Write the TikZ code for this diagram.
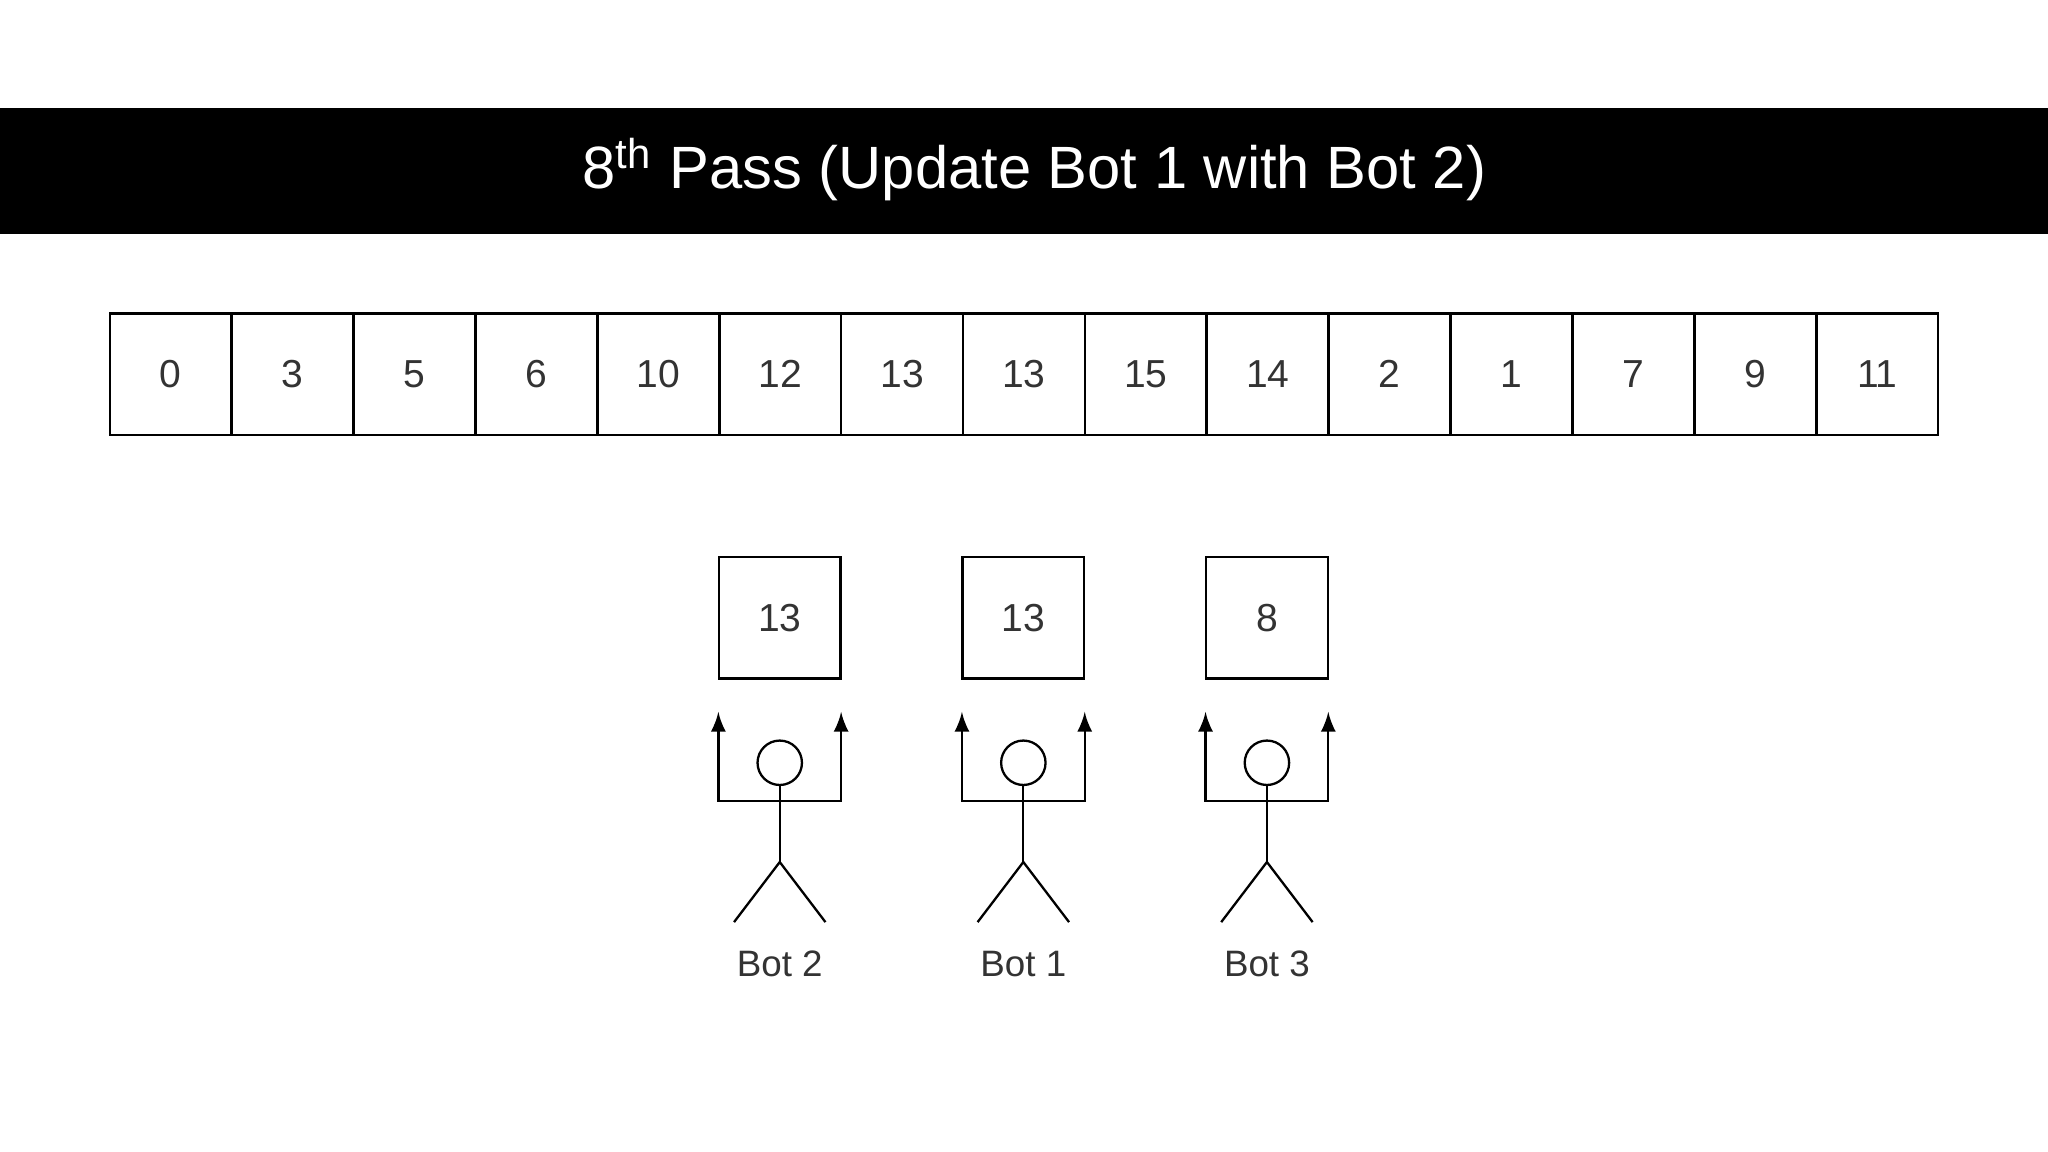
\documentclass[tikz,border=0pt]{standalone}
\usepackage{fontspec}
\setmainfont{Liberation Sans}
\begin{document}
\begin{tikzpicture}[x=0.01cm,y=-0.01cm,
  cell/.style={draw,line width=0.5pt,minimum width=0.93cm,minimum height=0.93cm,inner sep=0,font=\fontsize{8.5}{10}\selectfont,text=black!80},
  lbl/.style={font=\fontsize{8}{10}\selectfont,text=black!80},
  arm/.style={line width=0.5pt,-latex}]
\useasboundingbox (0,0) rectangle (1568,882);
\fill (0,83) rectangle (1568,179);
\node[text=white,font=\fontsize{13}{15}\selectfont] (title) at (792,130) {8\textsuperscript{th} Pass (Update Bot 1 with Bot 2)};
\foreach \v [count=\i] in {0,3,5,6,10,12,13,13,15,14,2,1,7,9,11}{
  \node[cell] (c\i) at ({84+93.33*(\i-0.5)},286.5) {\v};
}
\foreach \cx/\v/\n/\name in {597/13/Bot 2/b2,783.5/13/Bot 1/b1,970/8/Bot 3/b3}{
  \node[cell] (\name box) at (\cx,473) {\v};
  \node[draw,circle,minimum size=0.34cm,inner sep=0,line width=0.5pt] (\name head) at (\cx,584) {};
  \coordinate (\name hip) at (\cx,660);
  \coordinate (\name ll) at (\cx-35,706);
  \coordinate (\name rl) at (\cx+35,706);
  \coordinate (\name la) at (\cx-47,613);
  \coordinate (\name ra) at (\cx+47,613);
  \coordinate (\name lt) at (\cx-47,545);
  \coordinate (\name rt) at (\cx+47,545);
  \draw[line width=0.5pt] (\name head.south) -- (\name hip);
  \draw[line width=0.5pt] (\name ll) -- (\name hip) -- (\name rl);
  \draw[arm] (\name ra) -- (\name la) -- (\name lt);
  \draw[arm] (\name la) -- (\name ra) -- (\name rt);
  \node[lbl] (\name lbl) at (\cx,738) {\n};
}
\end{tikzpicture}
\end{document}
